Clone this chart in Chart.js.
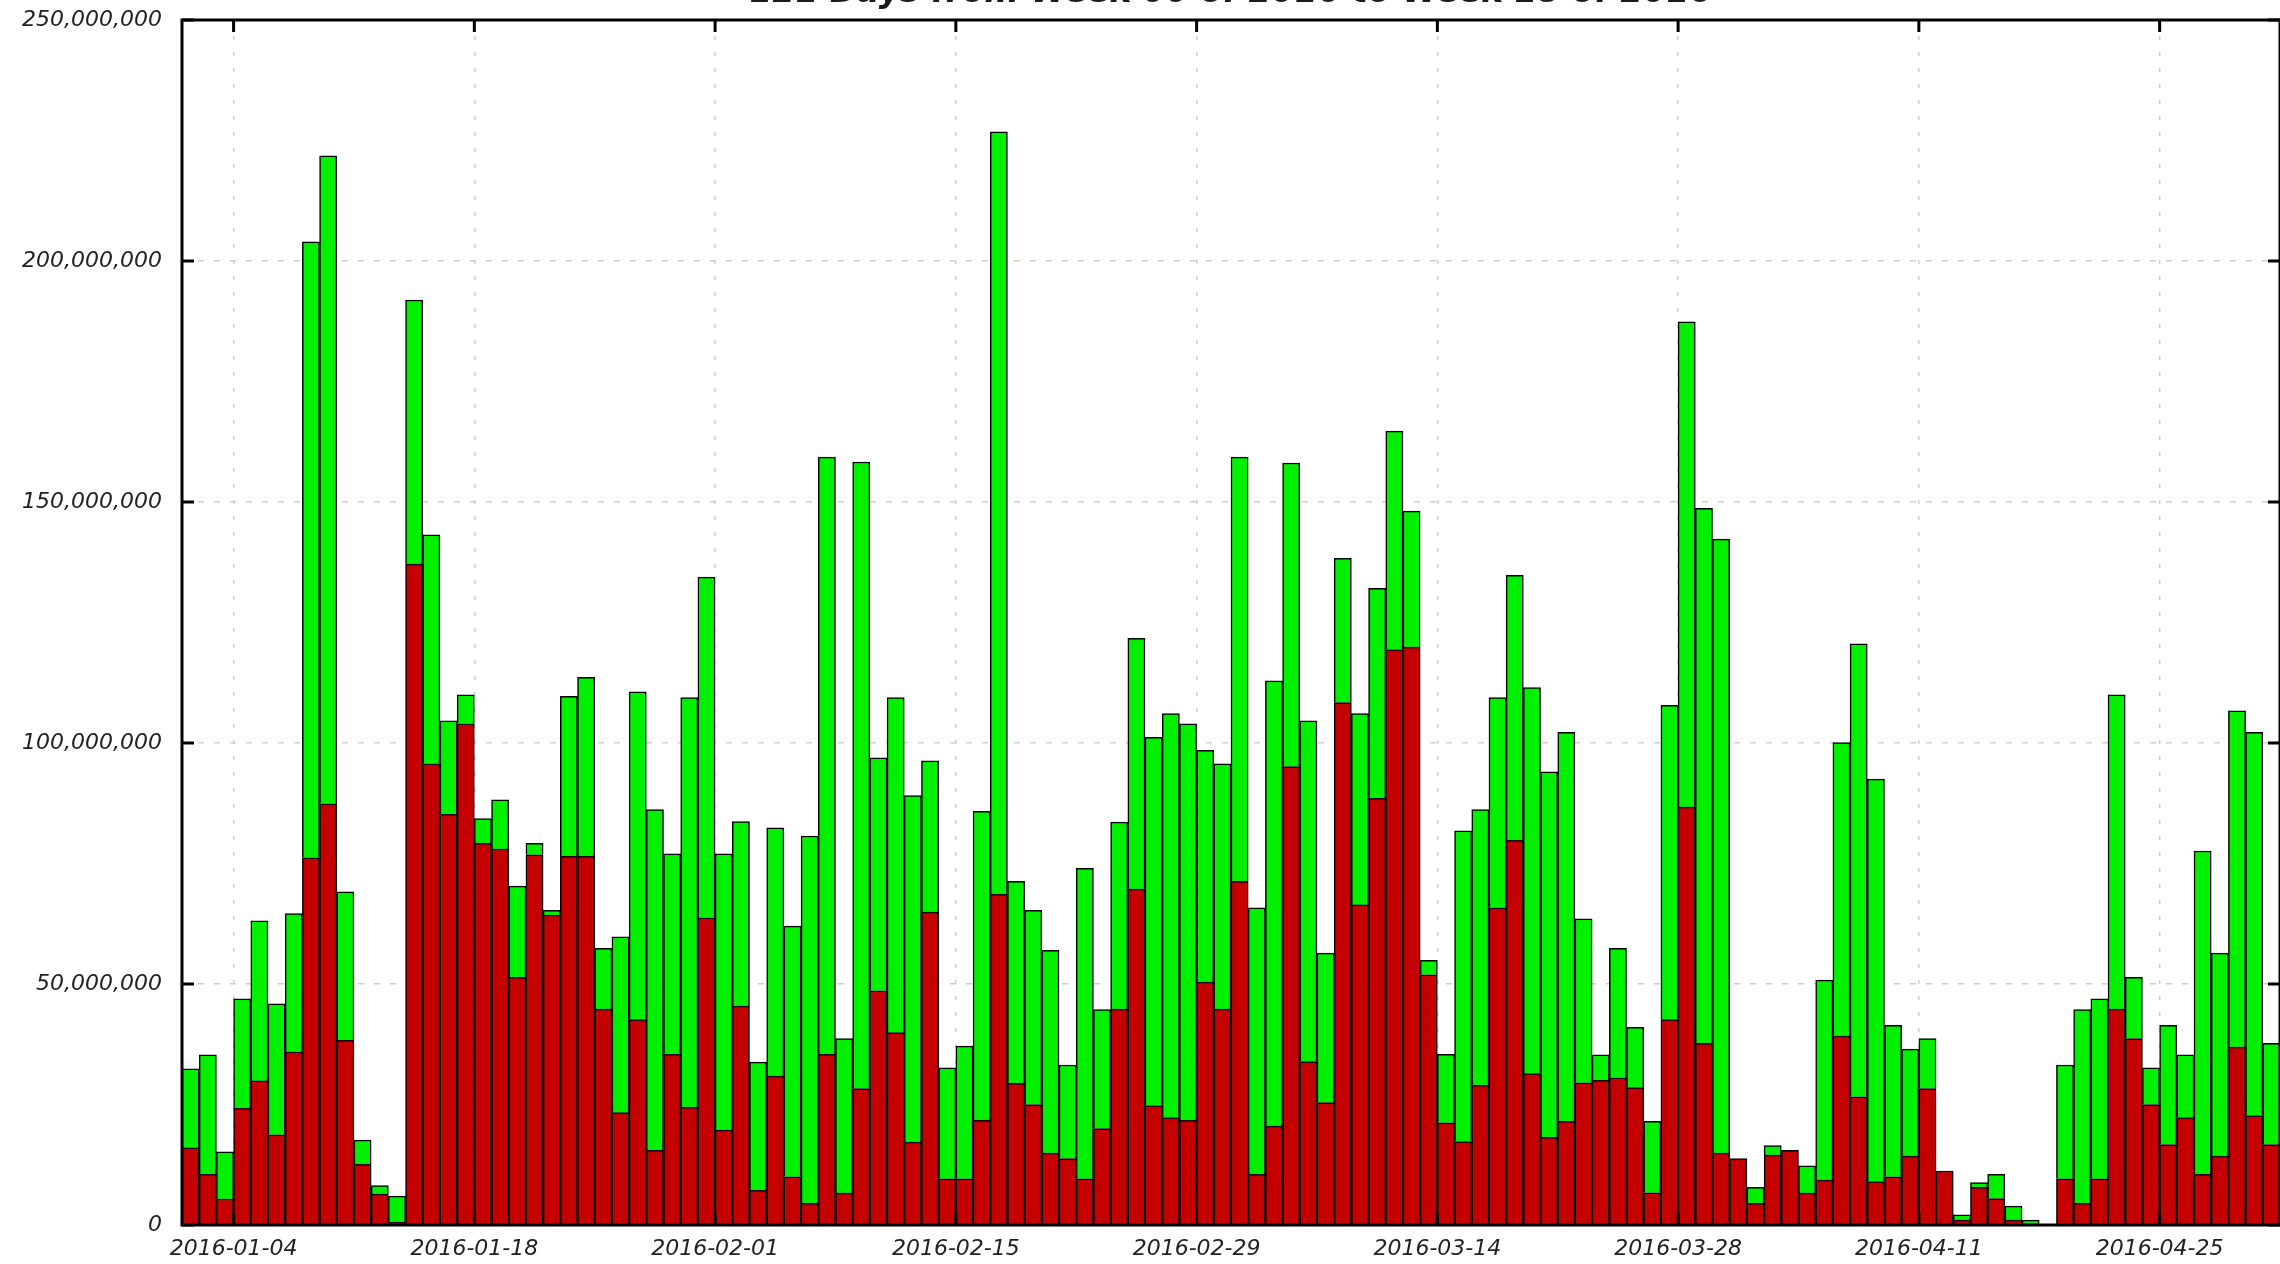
<!DOCTYPE html>
<html>
<head>
<meta charset="utf-8">
<script src="https://cdn.jsdelivr.net/npm/chart.js@4/dist/chart.umd.min.js"></script>
<style>
  html, body { margin: 0; padding: 0; background: #ffffff; }
  #wrap { width: 2280px; height: 1264px; position: relative; }
</style>
</head>
<body>
<div id="wrap"><canvas id="c" width="2280" height="1264"></canvas></div>
<script>
// ---------------- data ----------------
const chartTitle = '121 Days from Week 00 of 2016 to Week 18 of 2016';
const startDate = '2016-01-01';
const xTickLabels = ['2016-01-04', '2016-01-18', '2016-02-01', '2016-02-15', '2016-02-29',
                     '2016-03-14', '2016-03-28', '2016-04-11', '2016-04-25'];
const yTickMax = 250000000;
const yTickStep = 50000000;

// one bar per day from 2016-01-01; values in millions
const totalValues = [
  32.4, 35.3, 15.2, 46.9, 63.1, 45.9, 64.6, 204.0, 221.8, 69.1,
  17.6, 8.2, 6.0, 191.9, 143.2, 104.6, 110.0, 84.3, 88.2, 70.3,
  79.2, 65.3, 109.7, 113.6, 57.4, 59.8, 110.6, 86.2, 77.0, 109.4,
  134.4, 77.0, 83.7, 33.8, 82.4, 62.0, 80.7, 159.3, 38.7, 158.3,
  96.9, 109.4, 89.1, 96.3, 32.6, 37.1, 85.8, 226.8, 71.3, 65.3,
  57.0, 33.2, 74.0, 44.7, 83.6, 121.7, 101.2, 106.1, 104.0, 98.5,
  95.7, 159.3, 65.8, 112.9, 158.1, 104.6, 56.4, 138.3, 106.1, 132.1,
  164.7, 148.1, 54.9, 35.4, 81.8, 86.2, 109.4, 134.8, 111.5, 94.0,
  102.2, 63.5, 35.3, 57.4, 41.0, 21.5, 107.8, 187.4, 148.7, 142.3,
  13.8, 7.8, 16.5, 15.5, 12.3, 50.8, 100.1, 120.6, 92.5, 41.4,
  36.5, 38.7, 11.2, 2.1, 8.8, 10.5, 3.9, 1.0, 0, 33.2,
  44.7, 46.9, 110.0, 51.4, 32.6, 41.4, 35.3, 77.6, 56.4, 106.7,
  102.2, 37.7
];
const redValues = [
  16.0, 10.5, 5.4, 24.2, 29.9, 18.7, 35.9, 76.2, 87.4, 38.3,
  12.6, 6.4, 0.6, 137.1, 95.7, 85.2, 104.0, 79.2, 78.0, 51.4,
  76.8, 64.3, 76.5, 76.5, 44.8, 23.3, 42.6, 15.5, 35.4, 24.4,
  63.7, 19.7, 45.4, 7.2, 30.9, 10.0, 4.5, 35.4, 6.6, 28.3,
  48.6, 39.9, 17.2, 64.9, 9.6, 9.6, 21.7, 68.6, 29.4, 25.0,
  14.9, 13.8, 9.6, 20.0, 44.8, 69.7, 24.8, 22.3, 21.7, 50.4,
  44.8, 71.3, 10.5, 20.5, 95.1, 33.9, 25.4, 108.4, 66.4, 88.5,
  119.4, 119.9, 51.9, 21.2, 17.3, 29.0, 65.8, 79.8, 31.4, 18.2,
  21.5, 29.5, 30.0, 30.5, 28.5, 6.7, 42.6, 86.7, 37.7, 14.9,
  13.8, 4.5, 14.5, 15.5, 6.6, 9.3, 39.2, 26.6, 9.0, 10.0,
  14.3, 28.3, 11.2, 1.0, 7.8, 5.5, 1.0, 0.3, 0, 9.6,
  4.5, 9.6, 44.8, 38.7, 25.0, 16.7, 22.3, 10.5, 14.3, 36.9,
  22.7, 16.7
];

// ---------------- build ----------------
const MS_DAY = 86400000;
const dayOf = s => Math.round((Date.parse(s) - Date.parse(startDate)) / MS_DAY);
const xTickDays = xTickLabels.map(dayOf);
const nDays = totalValues.length;

const redData = redValues.map((v, i) => ({ x: i + 0.5, y: v > 0 ? v * 1e6 : null }));
const greenData = totalValues.map((t, i) => {
  const g = t - redValues[i];
  return { x: i + 0.5, y: g > 0.0001 ? g * 1e6 : null };
});

const FONT = '"DejaVu Sans", "Liberation Sans", sans-serif';

const titlePlugin = {
  id: 'cutTitle',
  afterDraw(chart) {
    const { ctx, chartArea: a } = chart;
    ctx.save();
    ctx.font = 'italic bold 33px ' + FONT;
    ctx.fillStyle = '#1a1a1a';
    ctx.textAlign = 'center';
    ctx.textBaseline = 'alphabetic';
    ctx.fillText(chartTitle, (a.left + a.right) / 2, 2);
    ctx.restore();
  }
};

const framePlugin = {
  id: 'frame',
  afterDatasetsDraw(chart) {
    const { ctx, chartArea: a, scales } = chart;
    const x = scales.x, y = scales.y;
    const L = 12;
    ctx.save();
    ctx.strokeStyle = '#000';
    ctx.lineWidth = 3;
    ctx.beginPath();
    x.ticks.forEach(t => {
      const px = x.getPixelForValue(t.value);
      ctx.moveTo(px, a.bottom); ctx.lineTo(px, a.bottom - L);
      ctx.moveTo(px, a.top); ctx.lineTo(px, a.top + L);
    });
    y.ticks.forEach(t => {
      const py = y.getPixelForValue(t.value);
      ctx.moveTo(a.left, py); ctx.lineTo(a.left + L, py);
      ctx.moveTo(a.right, py); ctx.lineTo(a.right - L, py);
    });
    ctx.stroke();
    ctx.strokeRect(a.left, a.top, a.right - a.left, a.bottom - a.top);
    ctx.restore();
  }
};

new Chart(document.getElementById('c'), {
  type: 'bar',
  data: {
    datasets: [
      { label: 'red', data: redData, backgroundColor: '#c40000', borderColor: '#000', borderWidth: 1.5 },
      { label: 'green', data: greenData, backgroundColor: '#00f000', borderColor: '#000', borderWidth: 1.5 }
    ]
  },
  options: {
    responsive: false,
    animation: false,
    devicePixelRatio: 1,
    layout: { padding: { top: 20, right: 0, left: 0, bottom: 0 } },
    plugins: { legend: { display: false }, title: { display: false }, tooltip: { enabled: false } },
    datasets: { bar: { barPercentage: 1, categoryPercentage: 1, grouped: false } },
    scales: {
      x: {
        type: 'linear',
        stacked: true,
        offset: false,
        min: 0,
        max: nDays,
        afterBuildTicks: s => { s.ticks = xTickDays.map(v => ({ value: v })); },
        afterFit: s => { s.height = 39; s.paddingLeft = 0; s.paddingRight = 0; s.paddingTop = 0; s.paddingBottom = 0; },
        ticks: {
          autoSkip: false,
          maxRotation: 0,
          padding: 11,
          color: '#222',
          font: { family: FONT, size: 22, style: 'italic' },
          callback: (v, i) => xTickLabels[i]
        },
        grid: { offset: false, color: '#cfcfcf', lineWidth: 1.5, drawTicks: false },
        border: { display: false, dash: [4, 12] }
      },
      y: {
        stacked: true,
        min: 0,
        max: yTickMax,
        afterFit: s => { s.width = 182; s.paddingTop = 0; s.paddingBottom = 0; s.paddingLeft = 0; s.paddingRight = 0; },
        ticks: {
          stepSize: yTickStep,
          padding: 20,
          color: '#222',
          font: { family: FONT, size: 22, style: 'italic' },
          callback: v => Number(v).toLocaleString('en-US')
        },
        grid: { color: '#cfcfcf', lineWidth: 1.5, drawTicks: false },
        border: { display: false, dash: [6, 10] }
      }
    }
  },
  plugins: [framePlugin, titlePlugin]
});
</script>
</body>
</html>
